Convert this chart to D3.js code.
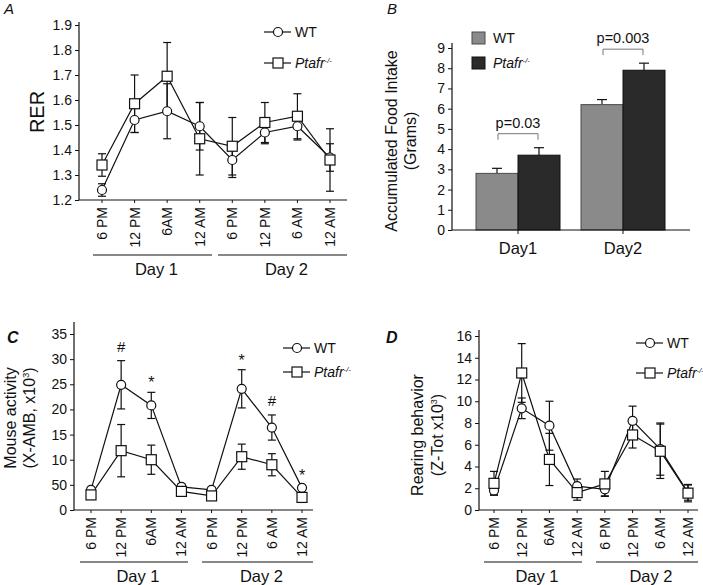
<!DOCTYPE html>
<html>
<head>
<meta charset="utf-8">
<script src="https://d3js.org/d3.v7.min.js"></script>
<style>
  body { margin: 0; background: #fff; }
  text { font-family: "Liberation Sans", Arial, sans-serif; fill: #111; }
</style>
</head>
<body>
<div id="fig"></div>
<script>
// time points and groups (shared by panels A, C, D)
var times = ["6 PM", "12 PM", "6AM", "12 AM", "6 PM", "12 PM", "6 AM", "12 AM"];
var days = ["Day 1", "Day 2"];

// A: RER
var rerWT    = [1.24, 1.52, 1.555, 1.495, 1.36, 1.47, 1.495, 1.37];
var rerWTErr = [0.025, 0.05, 0.11, 0.095, 0.07, 0.045, 0.055, 0.055];
var rerKO    = [1.34, 1.585, 1.695, 1.445, 1.415, 1.51, 1.535, 1.36];
var rerKOErr = [0.045, 0.115, 0.135, 0.145, 0.115, 0.08, 0.09, 0.125];
var rerTicks = [1.2, 1.3, 1.4, 1.5, 1.6, 1.7, 1.8, 1.9];

// B: accumulated food intake
var foodDays  = ["Day1", "Day2"];
var foodWT    = [2.8, 6.2];
var foodWTErr = [0.25, 0.25];
var foodKO    = [3.7, 7.9];
var foodKOErr = [0.37, 0.35];
var foodP     = ["p=0.03", "p=0.003"];
var foodTicks = [0, 1, 2, 3, 4, 5, 6, 7, 8, 9];

// C: mouse activity
var actWT    = [4.0, 24.9, 20.8, 4.6, 4.0, 24.1, 16.4, 4.4];
var actWTErr = [0.5, 4.8, 2.6, 0.6, 0.5, 3.8, 2.5, 0.5];
var actKO    = [3.0, 11.8, 10.0, 3.7, 2.8, 10.6, 9.0, 2.5];
var actKOErr = [0.5, 5.2, 2.9, 0.5, 0.4, 2.5, 2.2, 0.4];
var actMarks = ["", "#", "*", "", "", "*", "#", "*"];
var actTicks = [0, 5, 10, 15, 20, 25, 30, 35];
var actTickLabels = ["0", "50", "10", "15", "20", "25", "30", "35"];

// D: rearing behavior
var rearWT    = [1.8, 9.35, 7.75, 2.2, 1.9, 8.2, 5.6, 1.6];
var rearWTErr = [0.35, 0.95, 2.25, 0.65, 0.6, 1.35, 2.4, 0.7];
var rearKO    = [2.45, 12.6, 4.65, 1.6, 2.4, 6.9, 5.4, 1.55];
var rearKOErr = [1.1, 2.7, 2.4, 0.7, 1.15, 1.2, 2.5, 0.8];
var rearTicks = [0, 2, 4, 6, 8, 10, 12, 14, 16];

var svg = d3.select('#fig').append('svg')
  .attr('width', 703).attr('height', 585)
  .style('background', '#fff');

function koLabel(sel, size) {
  sel.append('tspan').attr('font-style', 'italic').text('Ptafr');
  sel.append('tspan').attr('font-style', 'italic').attr('font-size', size * 0.55)
    .attr('dy', -size * 0.38).text('-/-');
}

function yLabel(lines, cx, cy, gap, size) {
  lines.forEach(function(t, i) {
    svg.append('text')
      .attr('transform', 'translate(' + (cx + i * gap) + ',' + cy + ') rotate(-90)')
      .attr('text-anchor', 'middle').attr('font-size', size || 16).text(t);
  });
}

function supLabel(base, cx, cy) {
  svg.append('text').attr('transform', 'translate(' + cx + ',' + cy + ') rotate(-90)').attr('text-anchor', 'middle')
    .attr('font-size', 16).call(function(t) {
      t.append('tspan').text(base);
      t.append('tspan').attr('font-size', 9).attr('dy', -6).text('3');
      t.append('tspan').attr('dy', 6).text(')');
    });
}

function lineLegend(x, y1, y2) {
  var g = svg.append('g');
  [y1, y2].forEach(function(y, i) {
    g.append('line').attr('x1', x - 14).attr('x2', x + 13).attr('y1', y).attr('y2', y)
      .attr('stroke', '#111').attr('stroke-width', 1.2);
    if (i == 0) {
      g.append('circle').attr('cx', x).attr('cy', y).attr('r', 4.5)
        .attr('fill', '#fff').attr('stroke', '#111').attr('stroke-width', 1.2);
      g.append('text').attr('x', x + 17).attr('y', y + 5).attr('font-size', 14).text('WT');
    } else {
      g.append('rect').attr('x', x - 5).attr('y', y - 5).attr('width', 10).attr('height', 10)
        .attr('fill', '#fff').attr('stroke', '#111').attr('stroke-width', 1.2);
      g.append('text').attr('x', x + 17).attr('y', y + 5).attr('font-size', 14).call(koLabel, 14);
    }
  });
}

function linePanel(c) {
  var x = d3.scalePoint().domain(d3.range(times.length)).range([c.cx0, c.cx1]);
  var y = d3.scaleLinear().domain([c.ticks[0], c.ticks[c.ticks.length - 1]]).range([c.y0, c.y1]);
  var g = svg.append('g');

  // y axis
  var ya = g.append('g').attr('transform', 'translate(' + c.ax + ',0)')
    .call(d3.axisLeft(y).tickValues(c.ticks).tickSize(4).tickPadding(3)
      .tickFormat(function(d, i) { return c.tickLabels ? c.tickLabels[i] : d3.format(c.fmt)(d); }));
  ya.select('.domain').remove();
  ya.selectAll('text').attr('font-size', 14).attr('font-family', '"Liberation Sans", Arial, sans-serif').attr('fill', '#111');
  ya.selectAll('line').attr('stroke', '#111');
  g.append('line').attr('x1', c.ax).attr('x2', c.ax).attr('y1', c.top).attr('y2', c.y0)
    .attr('stroke', '#111').attr('stroke-width', 1.2);

  // x axis
  g.append('line').attr('x1', c.ax).attr('x2', c.xEnd).attr('y1', c.y0).attr('y2', c.y0)
    .attr('stroke', '#111').attr('stroke-width', 1.2);
  times.forEach(function(t, i) {
    g.append('line').attr('x1', x(i)).attr('x2', x(i)).attr('y1', c.y0).attr('y2', c.y0 + 3)
      .attr('stroke', '#111');
    g.append('text').attr('transform', 'translate(' + (x(i) + 5) + ',' + (c.y0 + 7) + ') rotate(-90)')
      .attr('text-anchor', 'end').attr('font-size', 14).text(t);
  });

  // day group lines
  days.forEach(function(d, i) {
    var ext = c.groups[i];
    g.append('line').attr('x1', ext[0]).attr('x2', ext[1]).attr('y1', c.gy).attr('y2', c.gy)
      .attr('stroke', '#111').attr('stroke-width', 1.2);
    g.append('text').attr('x', (ext[0] + ext[1]) / 2 + 4).attr('y', c.gy + 20)
      .attr('text-anchor', 'middle').attr('font-size', 16.5).text(d);
  });

  var line = d3.line().x(function(d, i) { return x(i); }).y(function(d) { return y(d); });
  var series = [
    { v: c.wt, e: c.wtErr, shape: 'circle' },
    { v: c.ko, e: c.koErr, shape: 'square' }
  ];
  // error bars
  series.forEach(function(s) {
    s.v.forEach(function(v, i) {
      var lo = y(v - s.e[i]), hi = y(v + s.e[i]);
      g.append('line').attr('x1', x(i)).attr('x2', x(i)).attr('y1', lo).attr('y2', hi)
        .attr('stroke', '#111').attr('stroke-width', 1.2);
      [lo, hi].forEach(function(yy) {
        g.append('line').attr('x1', x(i) - 4).attr('x2', x(i) + 4).attr('y1', yy).attr('y2', yy)
          .attr('stroke', '#111').attr('stroke-width', 1.2);
      });
    });
  });
  series.forEach(function(s) {
    g.append('path').attr('d', line(s.v)).attr('fill', 'none')
      .attr('stroke', '#111').attr('stroke-width', 1.2);
  });
  series.forEach(function(s) {
    s.v.forEach(function(v, i) {
      if (s.shape == 'circle') {
        g.append('circle').attr('cx', x(i)).attr('cy', y(v)).attr('r', 4.5)
          .attr('fill', '#fff').attr('stroke', '#111').attr('stroke-width', 1.2);
      } else {
        g.append('rect').attr('x', x(i) - 5).attr('y', y(v) - 5).attr('width', 10).attr('height', 10)
          .attr('fill', '#fff').attr('stroke', '#111').attr('stroke-width', 1.2);
      }
    });
  });

  if (c.marks) {
    c.marks.forEach(function(m, i) {
      if (!m) return;
      var top = y(c.wt[i] + c.wtErr[i]);
      g.append('text').attr('x', x(i)).attr('y', top - (m == '*' ? 4 : 9))
        .attr('text-anchor', 'middle').attr('font-size', m == '*' ? 16 : 15).text(m);
    });
  }
}

// Panel A
svg.append('text').attr('x', 4).attr('y', 14).attr('font-size', 15).attr('font-style', 'italic').text('A');
linePanel({
  ax: 79, xEnd: 347, cx0: 102, cx1: 330, y0: 200, y1: 25, top: 22,
  ticks: rerTicks, fmt: '.1f',
  wt: rerWT, wtErr: rerWTErr, ko: rerKO, koErr: rerKOErr,
  gy: 255, groups: [[93, 212], [218, 347]]
});
yLabel(['RER'], 44, 112, 0, 20);
lineLegend(278, 32, 63);

// Panel C
svg.append('text').attr('x', 7).attr('y', 343).attr('font-size', 16)
  .attr('font-style', 'italic').attr('font-weight', 'bold').text('C');
linePanel({
  ax: 74, xEnd: 313, cx0: 91, cx1: 302, y0: 510, y1: 334, top: 322,
  ticks: actTicks, tickLabels: actTickLabels,
  wt: actWT, wtErr: actWTErr, ko: actKO, koErr: actKOErr, marks: actMarks,
  gy: 562, groups: [[80, 188], [202, 313]]
});
yLabel(['Mouse activity'], 16, 418, 0);
supLabel('(X-AMB, x10', 35, 418);
lineLegend(297, 348, 372);

// Panel D
svg.append('text').attr('x', 386).attr('y', 343).attr('font-size', 16)
  .attr('font-style', 'italic').attr('font-weight', 'bold').text('D');
linePanel({
  ax: 479, xEnd: 698, cx0: 494, cx1: 688, y0: 510, y1: 336, top: 330,
  ticks: rearTicks, fmt: 'd',
  wt: rearWT, wtErr: rearWTErr, ko: rearKO, koErr: rearKOErr,
  gy: 562, groups: [[484, 582], [596, 698]]
});
yLabel(['Rearing behavior'], 423, 435, 0);
supLabel('(Z-Tot x10', 443, 435);
lineLegend(650, 343, 373);

// Panel B: bars
(function() {
  var ax = 452, xEnd = 690, y0 = 230;
  svg.append('text').attr('x', 387).attr('y', 14).attr('font-size', 15).attr('font-style', 'italic').text('B');
  var y = d3.scaleLinear().domain([0, 9]).range([y0, 48]);
  var x = d3.scaleBand().domain(foodDays).range([476, 665]).paddingInner(0.2);
  var sub = d3.scaleBand().domain(['WT', 'KO']).range([0, x.bandwidth()]);

  var ya = svg.append('g').attr('transform', 'translate(' + ax + ',0)')
    .call(d3.axisLeft(y).tickValues(foodTicks).tickSize(4).tickPadding(3));
  ya.select('.domain').remove();
  ya.selectAll('text').attr('font-size', 14).attr('font-family', '"Liberation Sans", Arial, sans-serif').attr('fill', '#111');
  ya.selectAll('line').attr('stroke', '#111');
  svg.append('line').attr('x1', ax).attr('x2', ax).attr('y1', 43).attr('y2', y0)
    .attr('stroke', '#111').attr('stroke-width', 1.2);

  var series = [
    { key: 'WT', v: foodWT, e: foodWTErr, fill: '#8a8a8a', stroke: '#4a4a4a' },
    { key: 'KO', v: foodKO, e: foodKOErr, fill: '#2a2a2a', stroke: '#111' }
  ];
  series.forEach(function(s) {
    s.v.forEach(function(v, i) {
      var bx = x(foodDays[i]) + sub(s.key), bw = sub.bandwidth();
      var cx = bx + bw / 2;
      svg.append('line').attr('x1', cx).attr('x2', cx).attr('y1', y(v)).attr('y2', y(v + s.e[i]))
        .attr('stroke', '#111').attr('stroke-width', 1.2);
      svg.append('line').attr('x1', cx - 5).attr('x2', cx + 5).attr('y1', y(v + s.e[i])).attr('y2', y(v + s.e[i]))
        .attr('stroke', '#111').attr('stroke-width', 1.2);
      svg.append('rect').attr('x', bx).attr('y', y(v)).attr('width', bw).attr('height', y0 - y(v))
        .attr('fill', s.fill).attr('stroke', s.stroke).attr('stroke-width', 1);
    });
  });

  svg.append('line').attr('x1', ax).attr('x2', xEnd).attr('y1', y0).attr('y2', y0)
    .attr('stroke', '#111').attr('stroke-width', 1.2);

  foodDays.forEach(function(d, i) {
    var cx = x(d) + x.bandwidth() / 2;
    svg.append('line').attr('x1', cx).attr('x2', cx).attr('y1', y0).attr('y2', y0 + 4).attr('stroke', '#111');
    svg.append('text').attr('x', cx).attr('y', y0 + 24).attr('text-anchor', 'middle')
      .attr('font-size', 16.5).text(d);
    // significance bracket above the pair
    var top = d3.max([foodWT[i] + foodWTErr[i], foodKO[i] + foodKOErr[i]]);
    var by = y(top) - 14;
    var l = x(d) + sub.bandwidth() / 2 + 1, r = x(d) + sub.bandwidth() * 1.5 - 1;
    svg.append('path').attr('d', 'M' + l + ',' + (by + 6) + 'V' + by + 'H' + r + 'V' + (by + 6))
      .attr('fill', 'none').attr('stroke', '#777').attr('stroke-width', 1);
    svg.append('text').attr('x', cx).attr('y', by - 6).attr('text-anchor', 'middle')
      .attr('font-size', 14.5).text(foodP[i]);
  });

  // legend
  series.forEach(function(s, i) {
    var ly = 32 + i * 25;
    svg.append('rect').attr('x', 472).attr('y', ly).attr('width', 13).attr('height', 12)
      .attr('fill', s.fill).attr('stroke', s.stroke);
    var t = svg.append('text').attr('x', 493).attr('y', ly + 11).attr('font-size', 14);
    if (s.key == 'WT') t.text('WT'); else t.call(koLabel, 14);
  });

  yLabel(['Accumulated Food Intake', '(Grams)'], 397, 141, 19);
})();
</script>
</body>
</html>
